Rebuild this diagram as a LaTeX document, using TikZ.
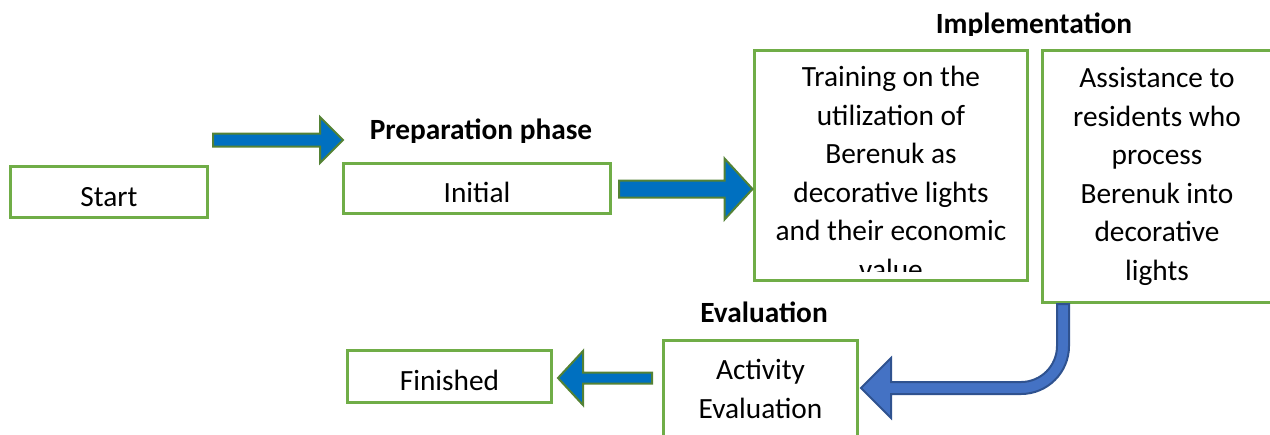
\documentclass[tikz,border=0pt]{standalone}
\usepackage{fontspec}
\setmainfont{Carlito}
\usepackage{xcolor}
\usetikzlibrary{calc}

\definecolor{boxgreen}{HTML}{70AD47}
\definecolor{arrowblue}{HTML}{0070C0}
\definecolor{arrowrim}{HTML}{548235}
\definecolor{bendblue}{HTML}{4472C4}
\definecolor{bendrim}{HTML}{2F528F}

% block arrow: style, tail, tip, half shaft, half head, head length (signed)
\newcommand{\blockarrow}[6]{%
  \draw[#1] ($(#2)+(0,{-(#4)})$) -- ($(#3)+({-(#6)},{-(#4)})$)
    -- ($(#3)+({-(#6)},{-(#5)})$) -- (#3) -- ($(#3)+({-(#6)},#5)$)
    -- ($(#3)+({-(#6)},#4)$) -- ($(#2)+(0,#4)$) -- cycle;}

\begin{document}
\begin{tikzpicture}[x=0.02cm,y=-0.02cm]
\tikzset{box/.style={draw=boxgreen,line width=0.06cm,inner sep=0pt,align=center,
  font=\fontsize{16.7}{21.9}\selectfont}}
\tikzset{onebox/.style={box,text height=16pt,text depth=0pt}}
\tikzset{boxtext/.style={inner sep=0pt,align=center,font=\fontsize{16.7}{21.9}\selectfont}}
\tikzset{phase/.style={inner sep=0pt,font=\fontsize{16.7}{20}\selectfont\bfseries}}
\tikzset{blockblue/.style={fill=arrowblue,draw=arrowrim,line width=0.04cm,line join=miter}}
\tikzset{blockbend/.style={fill=bendblue,draw=bendrim,line width=0.04cm,line join=miter}}

\useasboundingbox (0,0) rectangle (1270,434);

% boxes
\node[onebox,minimum width=3.96cm,minimum height=1.02cm] (start) at (109,192) {Start};
\node[onebox,minimum width=5.36cm,minimum height=1.0cm] (init) at (477,188) {Initial};
\node[box,minimum width=5.48cm,minimum height=4.62cm] (train) at (891,165.5) {};
\node[box,minimum width=4.6cm,minimum height=5.06cm] (assist) at (1157,176.5)
  {Assistance to\\residents who\\process\\Berenuk into\\decorative\\lights};
\node[box,minimum width=3.9cm,minimum height=1.96cm] (act) at (760.5,389) {Activity\\Evaluation};
\node[onebox,minimum width=4.1cm,minimum height=1.04cm] (fin) at (449.5,376) {Finished};

\begin{scope}
\clip (754,50) rectangle (1028,271);
\node[boxtext,anchor=north] (traintext) at (891,66)
  {Training on the\\utilization of\\Berenuk as\\decorative lights\\and their economic\\value};
\end{scope}

% phase labels
\begin{scope}
\clip (300,100) rectangle (700,142);
\node[phase,anchor=base] (prep) at (481,139) {Preparation phase};
\end{scope}
\begin{scope}
\clip (850,0) rectangle (1250,35);
\node[phase,anchor=base] (impl) at (1034,33) {Implementation};
\end{scope}
\node[phase,anchor=base] (eval) at (764,322) {Evaluation};

% arrows
\coordinate (a1s) at (213,140);
\coordinate (a1e) at (343,140);
\coordinate (a2s) at (619,189);
\coordinate (a2e) at (train.west |- a2s);
\coordinate (a3s) at (652,378);
\coordinate (a3e) at (558,378);
\blockarrow{blockblue}{a1s}{a1e}{6.5}{23}{23}
\blockarrow{blockblue}{a2s}{a2e}{8.5}{30.5}{28}
\blockarrow{blockblue}{a3s}{a3e}{5.5}{27}{-25}

\coordinate (bendtop) at (1063,304);
\coordinate (bendtip) at (861,388);
\draw[blockbend] ($(bendtop)+(-6,0)$) -- ++(0,42) arc[start angle=0,end angle=90,radius=36]
  -- ($(bendtip)+(30,-6)$) -- ++(0,-24) -- (bendtip) -- ++(30,30) -- ++(0,-24)
  -- ++(130,0) arc[start angle=90,end angle=0,radius=48] -- ($(bendtop)+(6,0)$) -- cycle;

\end{tikzpicture}
\end{document}
